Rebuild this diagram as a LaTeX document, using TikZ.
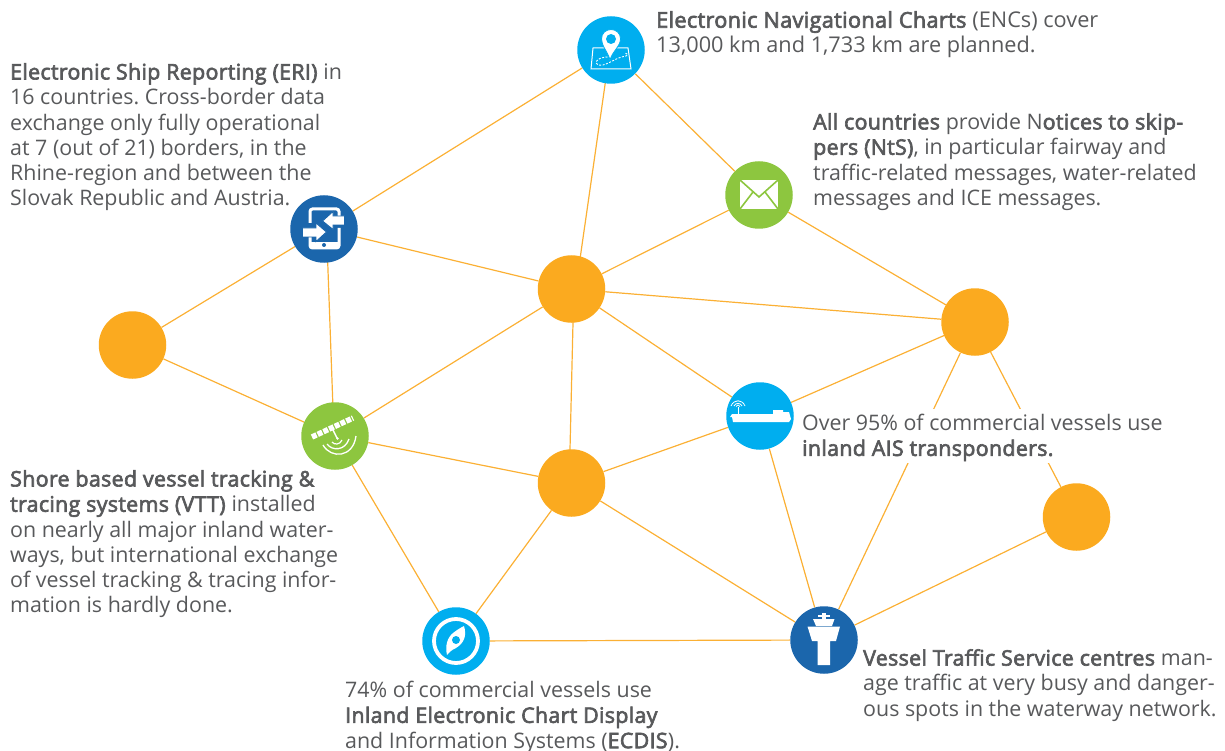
\documentclass[tikz,border=0pt]{standalone}
\usepackage{fontspec}
\setmainfont[BoldFont={Open Sans},BoldFeatures={FakeBold=3,LetterSpace=1.5}]{Open Sans}
\usetikzlibrary{backgrounds}
\definecolor{txt}{HTML}{58595B}
\definecolor{org}{HTML}{FBAA1F}
\definecolor{lnk}{HTML}{FBB034}
\definecolor{cy}{HTML}{00AEEF}
\definecolor{grn}{HTML}{8DC63F}
\definecolor{blu}{HTML}{1B66AC}
\tikzset{
 hub/.style={circle,minimum size=67.5pt,inner sep=0pt,fill=#1},
 link/.style={draw=lnk,line width=1.2pt},
 lab/.style={anchor=north west,align=left,inner sep=0pt,text=txt,font=\fontsize{21.4}{25.3}\selectfont\frenchspacing},
 icl/.style={draw=white,fill=none,line width=1.3pt}
}
\begin{document}
\begin{tikzpicture}[x=1pt,y=-1pt]
\useasboundingbox (0,0) rectangle (1225,751);
\node[hub=cy] (enc) at (611,50) {};
\node[hub=grn] (mail) at (759,195) {};
\node[hub=blu] (eri) at (324,229) {};
\node[hub=org] (c1) at (571.5,289) {};
\node[hub=org] (r1) at (975,322) {};
\node[hub=org] (lf) at (132.5,345) {};
\node[hub=cy] (ais) at (760,416) {};
\node[hub=grn] (vtt) at (335,436) {};
\node[hub=org] (c2) at (571.5,483) {};
\node[hub=org] (r2) at (1076.5,517) {};
\node[hub=cy] (ecd) at (456,641) {};
\node[hub=blu] (vts) at (824,640) {};
\coordinate (c1a) at (573.8,289);
\coordinate (c2a) at (569.2,483);
\coordinate (enca) at (610,50);
\coordinate (c1b) at (575.7,289);
\coordinate (eria) at (326.5,229);
\coordinate (vtta) at (334,436);
% text
\node[lab,font=\fontsize{21.7}{25.3}\selectfont\frenchspacing] (t1) at (656,11) {\textbf{Electronic Navigational Charts} (ENCs) cover\\13,000 km and 1,733 km are planned.};
\node[lab] (t2) at (813,113) {\textbf{All countries} provide N\textbf{otices to skip-}\\\textbf{pers (NtS)}, in particular fairway and\\traffic-related messages, water-related\\messages and ICE messages.};
\node[lab] (t3) at (10,63) {\textbf{Electronic Ship Reporting (ERI)} in\\16 countries. Cross-border data\\exchange only fully operational\\at 7 (out of 21) borders, in the\\Rhine-region and between the\\Slovak Republic and Austria.};
\node[lab] (t4) at (802,414) {Over 95\% of commercial vessels use\\\textbf{inland AIS transponders.}};
\node[lab] (t5) at (10,470) {\textbf{Shore based vessel tracking \&}\\\textbf{tracing systems (VTT)} installed\\on nearly all major inland water-\\ways, but international exchange\\of vessel tracking \& tracing infor-\\mation is hardly done.};
\node[lab] (t6) at (345,681) {74\% of commercial vessels use\\\textbf{Inland Electronic Chart Display}\\and Information Systems (\textbf{ECDIS}).};
\node[lab] (t7) at (863,649) {\textbf{Vessel Traffic Service centres} man-\\age traffic at very busy and danger-\\ous spots in the waterway network.};
\begin{pgfonlayer}{background}
\foreach \a/\b in {enc/eri,enca/c1b,enc/mail,mail/c1,mail/r1,eri/c1,eri/lf,eria/vtta,c1/r1,c1/ais,c1/vtt,c1a/c2a,lf/vtt,ais/r1,ais/c2,ais/vts,vtt/c2,vtt/ecd,c2/ecd,c2/vts,ecd/vts,vts/r2,vts/r1,r1/r2}
  \draw[link] (\a) -- (\b);
\fill[white] ([shift={(-3,-5)}]t4.north west) rectangle ([shift={(3,2)}]t4.south east);
\end{pgfonlayer}
% ENC icon
\begin{scope}[shift={(enc.center)}]
 \draw[icl,line width=1pt] (-18,-2) -- (17,-2) -- (20,19) -- (-20,19) -- cycle;
 \draw[white,line width=.9pt,dash pattern=on 2pt off 1.5pt] (0,7) .. controls (-18,6) and (-18,17) .. (-8,15) .. controls (2,12) and (4,8) .. (15,6) .. controls (18,5) and (16,3) .. (14,3);
 \fill[white,draw=cy,line width=.8pt] (-1,10) .. controls (-3,2) and (-9.5,-4) .. (-9.5,-11) .. controls (-9.5,-23.6) and (9.5,-23.6) .. (9.5,-11) .. controls (9.5,-4) and (1,2) .. (-1,10) -- cycle;
 \fill[cy] (0,-11) circle (5);
\end{scope}
% mail icon
\begin{scope}[shift={(mail.center)}]
 \fill[white] (-19,-15) rectangle (19,14);
 \draw[grn,line width=1.6pt] (-19,-15) -- (0,2) -- (19,-15);
 \draw[grn,line width=1.6pt] (-19,14) -- (-6,-3) (19,14) -- (6,-3);
\end{scope}
% ERI icon
\begin{scope}[shift={(eri.center)}]
 \draw[white,line width=3pt,rounded corners=2.5pt] (-14,-6) -- (-14,-20) -- (15,-20) -- (15,-12);
 \draw[white,line width=3pt,rounded corners=2.5pt] (-14,8) -- (-14,19) -- (15,19) -- (15,-1);
 \fill[white] (-14,13) rectangle (15,19);
 \fill[blu] (0,16) circle (2);
 \fill[white,draw=blu,line width=.9pt] (-21.5,-1) -- (-8,-1) -- (-8,-6) -- (2.5,3) -- (-8,12.5) -- (-8,8) -- (-21.5,8) -- cycle;
 \fill[white,draw=blu,line width=.9pt] (20.5,-13) -- (9,-13) -- (9,-17.5) -- (-1.5,-8) -- (9,0.5) -- (9,-4) -- (20.5,-4) -- cycle;
\end{scope}
% VTT icon
\begin{scope}[shift={(vtt.center)}]
 \draw[white,line width=5.5pt,dash pattern=on 5pt off 1.3pt] (-23,1) -- (18,-18);
 \draw[white,line width=1.5pt] (-3,-8) -- (2,2);
 \fill[white] (2.5,2.5) circle (1.3);
 \draw[white,line width=1.2pt] (-3,6) .. controls (-1,9) and (5,9) .. (7,4);
 \draw[white,line width=1.3pt] (-8,8) .. controls (-3,15) and (10,15) .. (14,3);
 \draw[white,line width=1.3pt] (-12,9) .. controls (-4,23) and (18,22) .. (21,0);
\end{scope}
% AIS icon
\begin{scope}[shift={(ais.center)}]
 \fill[white] (-30,1) -- (-28,-2) -- (13,-2) -- (13,-6) -- (23,-6) -- (23,-4) -- (29,-4) -- (31,3) -- (29,6) -- (-27,6) -- (-28,1) -- cycle;
 \draw[white,line width=1pt] (-22,-2) -- (-22,-9);
 \draw[white,line width=.8pt] (-24,-9.5) .. controls (-23,-11.5) and (-21,-11.5) .. (-20,-9.5);
 \draw[white,line width=.8pt] (-26,-10) .. controls (-24.5,-13.5) and (-19.5,-13.5) .. (-18,-10);
 \draw[white,line width=.8pt] (-29,-10) .. controls (-26,-17) and (-18,-17) .. (-15,-10);
\end{scope}
% ECDIS icon
\begin{scope}[shift={(ecd.center)}]
 \draw[white,line width=3.8pt] (0,0) circle (22);
 \fill[white] (8,-15) .. controls (11,-5) and (8,2) .. (0,7) .. controls (-6,10) and (-5,10) .. (-9,14) .. controls (-11,5) and (-9,-3) .. (-3,-8) .. controls (1,-11) and (4,-13) .. (8,-15) -- cycle;
 \fill[cy] (0,-1) circle (4);
\end{scope}
% VTS icon
\begin{scope}[shift={(vts.center)}]
 \fill[white] (-2,-27) rectangle (2,-20);
 \fill[white] (-6.5,-25) rectangle (5.5,-23);
 \fill[white] (-11,-21) -- (10.5,-21) -- (8,-14) -- (-8,-14) -- cycle;
 \fill[white] (-16.5,-13.5) -- (16,-13.5) -- (12,1) -- (6,1) -- (6,25) -- (-6.5,25) -- (-6.5,1) -- (-12,1) -- cycle;
\end{scope}
\end{tikzpicture}
\end{document}
